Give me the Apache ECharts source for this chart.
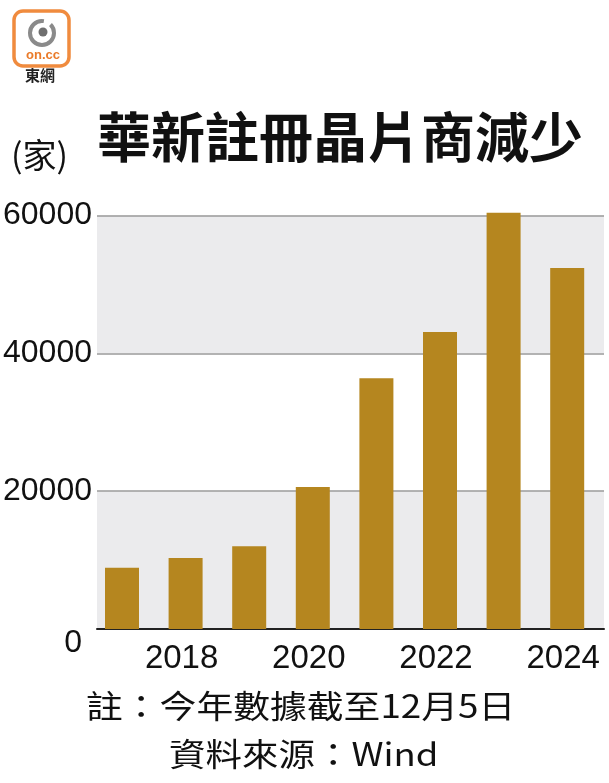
<!DOCTYPE html>
<html>
<head>
<meta charset="utf-8">
<script src="https://cdn.jsdelivr.net/npm/echarts@6/dist/echarts.min.js"></script>
<style>
html,body{margin:0;padding:0;background:#fff;}
#chart{width:609px;height:783px;}
</style>
</head>
<body>
<div id="chart"></div>
<script>
// ---- data ----
var years = ['2017', '2018', '2019', '2020', '2021', '2022', '2023', '2024'];
var companies = [8900, 10300, 12000, 20600, 36400, 43100, 60400, 52400];
var yTicks = [0, 20000, 40000, 60000];
var titleText = '華新註冊晶片商減少';
var unitText = '(家)';
var noteText = '註：今年數據截至12月5日';
var sourceText = '資料來源：Wind';

var numFont = '"Liberation Sans", Arial, sans-serif';
var cjkFont = '"Noto Sans CJK TC", "Noto Sans CJK SC", sans-serif';

var chart = echarts.init(document.getElementById('chart'), null, {renderer: 'canvas'});

var yMin = yTicks[0], yMax = yTicks[yTicks.length - 1], yStep = yTicks[1] - yTicks[0];

var option = {
  backgroundColor: '#ffffff',
  animation: false,
  grid: [
    {left: 85, right: 5, top: 215.5, bottom: 154},
    {left: 90.2, right: 10, top: 215.5, bottom: 154}
  ],
  xAxis: [
    {
      gridIndex: 0, type: 'value', min: 0, max: 1,
      axisLine: {show: true, onZero: false, lineStyle: {color: '#222', width: 2}},
      axisTick: {show: false}, axisLabel: {show: false}, splitLine: {show: false}
    },
    {
      gridIndex: 1, type: 'category', data: years, boundaryGap: true,
      axisLine: {show: false}, axisTick: {show: false}, splitLine: {show: false},
      axisLabel: {
        interval: function (index) { return index % 2 === 1; },
        color: '#111', fontFamily: numFont, fontSize: 33, margin: 13,
        padding: [0, 8, 0, 0]
      }
    }
  ],
  yAxis: [
    {
      gridIndex: 0, type: 'value', min: yMin, max: yMax, interval: yStep,
      axisLine: {show: false}, axisTick: {show: false},
      splitLine: {show: true, lineStyle: {color: '#9a9a9a', width: 1.5}},
      splitArea: {show: true, areaStyle: {color: ['#ebebed', '#ffffff']}},
      axisLabel: {
        color: '#111', fontFamily: numFont, fontSize: 32, margin: 5,
        formatter: function (v) { return v === 0 ? '{z|0}' : String(v); },
        rich: {z: {fontFamily: numFont, fontSize: 32, color: '#111', padding: [28, 10, 0, 0]}}
      }
    },
    {
      gridIndex: 1, type: 'value', min: yMin, max: yMax, interval: yStep, show: false,
      splitLine: {show: false}, splitArea: {show: false}
    }
  ],
  series: [{
    type: 'bar',
    xAxisIndex: 1, yAxisIndex: 1,
    data: companies,
    barWidth: 34,
    clip: false,
    itemStyle: {color: '#b5861f'}
  }],
  graphic: [
    {type: 'text', x: 97, y: 110, style: {text: titleText, fontFamily: cjkFont, fontSize: 54, fontWeight: 'bold', fill: '#111'}},
    {type: 'text', x: 11, y: 138, style: {text: unitText, fontFamily: cjkFont, fontSize: 34, fill: '#111'}},
    {type: 'text', x: 86, y: 690, scaleX: 1.15, style: {text: noteText, fontFamily: cjkFont, fontSize: 32, fill: '#111'}},
    {type: 'text', x: 169, y: 738, scaleX: 1.14, style: {text: sourceText, fontFamily: cjkFont, fontSize: 32, fill: '#111'}},
    // logo
    {type: 'rect', shape: {x: 14, y: 11, width: 55, height: 55, r: 9}, style: {fill: '#fff', stroke: '#f08b3e', lineWidth: 3.5}},
    {type: 'arc', shape: {cx: 42, cy: 33, r: 12, startAngle: -Math.PI * 0.25, endAngle: Math.PI * 1.55}, style: {stroke: '#8a8a8a', lineWidth: 4, fill: null}},
    {type: 'circle', shape: {cx: 43, cy: 32, r: 4.5}, style: {fill: '#6f6f6f'}},
    {type: 'text', x: 26, y: 49, style: {text: 'on.cc', fontFamily: numFont, fontSize: 13, fontWeight: 'bold', fill: '#ea7b2a'}},
    {type: 'text', x: 25, y: 68, style: {text: '東網', fontFamily: cjkFont, fontSize: 15, fontWeight: 'bold', fill: '#222'}}
  ]
};
chart.setOption(option);
</script>
</body>
</html>
